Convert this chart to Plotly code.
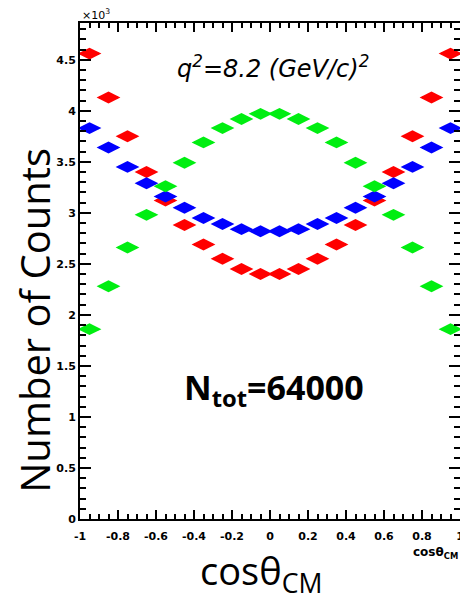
import plotly.graph_objects as go

# bin centres of cos(theta_CM)
cos_theta = [-0.95, -0.85, -0.75, -0.65, -0.55, -0.45, -0.35, -0.25, -0.15, -0.05,
             0.05, 0.15, 0.25, 0.35, 0.45, 0.55, 0.65, 0.75, 0.85, 0.95]
bin_half_width = [0.05] * 20

# counts in units of 10^3
red_counts = [4.56, 4.13, 3.75, 3.40, 3.12, 2.88, 2.69, 2.55, 2.45, 2.40,
              2.40, 2.45, 2.55, 2.69, 2.88, 3.12, 3.40, 3.75, 4.13, 4.56]
blue_counts = [3.83, 3.64, 3.45, 3.29, 3.16, 3.05, 2.95, 2.89, 2.84, 2.82,
               2.82, 2.84, 2.89, 2.95, 3.05, 3.16, 3.29, 3.45, 3.64, 3.83]
green_counts = [1.86, 2.28, 2.66, 2.98, 3.26, 3.49, 3.69, 3.83, 3.92, 3.97,
                3.97, 3.92, 3.83, 3.69, 3.49, 3.26, 2.98, 2.66, 2.28, 1.86]

x_tickvals = [-1, -0.8, -0.6, -0.4, -0.2, 0, 0.2, 0.4, 0.6, 0.8, 1]
x_ticktext = ["-1", "-0.8", "-0.6", "-0.4", "-0.2", "0", "0.2", "0.4", "0.6", "0.8", "1"]
y_tickvals = [0, 0.5, 1, 1.5, 2, 2.5, 3, 3.5, 4, 4.5]
y_ticktext = ["0", "0.5", "1", "1.5", "2", "2.5", "3", "3.5", "4", "4.5"]

series = [
    ("red", red_counts, "#ff0000"),
    ("blue", blue_counts, "#0000ff"),
    ("green", green_counts, "#00ee11"),
]

fig = go.Figure()
for name, vals, col in series:
    fig.add_trace(go.Scatter(
        x=cos_theta, y=vals, mode="markers", name=name,
        marker=dict(symbol="diamond-wide", size=17, color=col, line=dict(width=0)),
        error_x=dict(type="data", array=bin_half_width, color=col, thickness=2, width=0),
        showlegend=False,
    ))

tickfont = dict(family="DejaVu Sans", size=11, color="black", weight="bold")

# the page body has an 8px margin: the figure is offset by 8px
fig.update_layout(
    width=460, height=592,
    margin=dict(l=72, r=4, t=15, b=81),
    paper_bgcolor="white", plot_bgcolor="white",
    xaxis=dict(
        range=[-1, 1], tickvals=x_tickvals, ticktext=x_ticktext,
        ticks="inside", ticklen=9, tickwidth=1.5, tickcolor="black",
        minor=dict(dtick=0.05, tick0=0, ticks="inside", ticklen=5, tickwidth=1.5, tickcolor="black"),
        showline=True, linecolor="black", linewidth=2, mirror="allticks",
        showgrid=False, zeroline=False, tickfont=tickfont, ticklabelstandoff=6,
    ),
    yaxis=dict(
        range=[0, 4.86], tickvals=y_tickvals, ticktext=y_ticktext,
        ticks="inside", ticklen=11, tickwidth=1.5, tickcolor="black",
        minor=dict(dtick=0.1, tick0=0, ticks="inside", ticklen=6, tickwidth=1.5, tickcolor="black"),
        showline=True, linecolor="black", linewidth=2, mirror="allticks",
        showgrid=False, zeroline=False, tickfont=tickfont,
    ),
)

fig.add_annotation(xref="paper", yref="paper", x=0, y=0.998, xanchor="left", yanchor="bottom",
                   text="×10<sup>3</sup>", showarrow=False,
                   font=dict(family="DejaVu Sans", size=11, color="black"))
fig.add_annotation(xref="x", yref="y", x=0.015, y=4.43, xanchor="center", yanchor="middle",
                   text="<i>q<sup>2</sup>=8.2 (GeV/c)<sup>2</sup></i>", showarrow=False,
                   font=dict(family="DejaVu Sans", size=24, color="black"))
fig.add_annotation(xref="x", yref="y", x=0.02, y=1.27, xanchor="center", yanchor="middle",
                   text="<b>N<sub>tot</sub>=64000</b>", showarrow=False,
                   font=dict(family="Open Sans", size=34, color="black"))
fig.add_annotation(xref="paper", yref="paper", x=-0.122, y=0.401, xanchor="center", yanchor="middle",
                   text="Number of Counts", textangle=-90, showarrow=False,
                   font=dict(family="Open Sans", size=40, color="black"))
fig.add_annotation(xref="paper", yref="paper", x=0.477, y=-0.108, xanchor="center", yanchor="middle",
                   text="cosθ<sub>CM</sub>", showarrow=False,
                   font=dict(family="Open Sans", size=38, color="black"))
fig.add_annotation(xref="paper", yref="paper", x=0.935, y=-0.068, xanchor="center", yanchor="middle",
                   text="<b>cosθ<sub>CM</sub></b>", showarrow=False,
                   font=dict(family="DejaVu Sans", size=12, color="black"))

fig.write_html("out.html")
